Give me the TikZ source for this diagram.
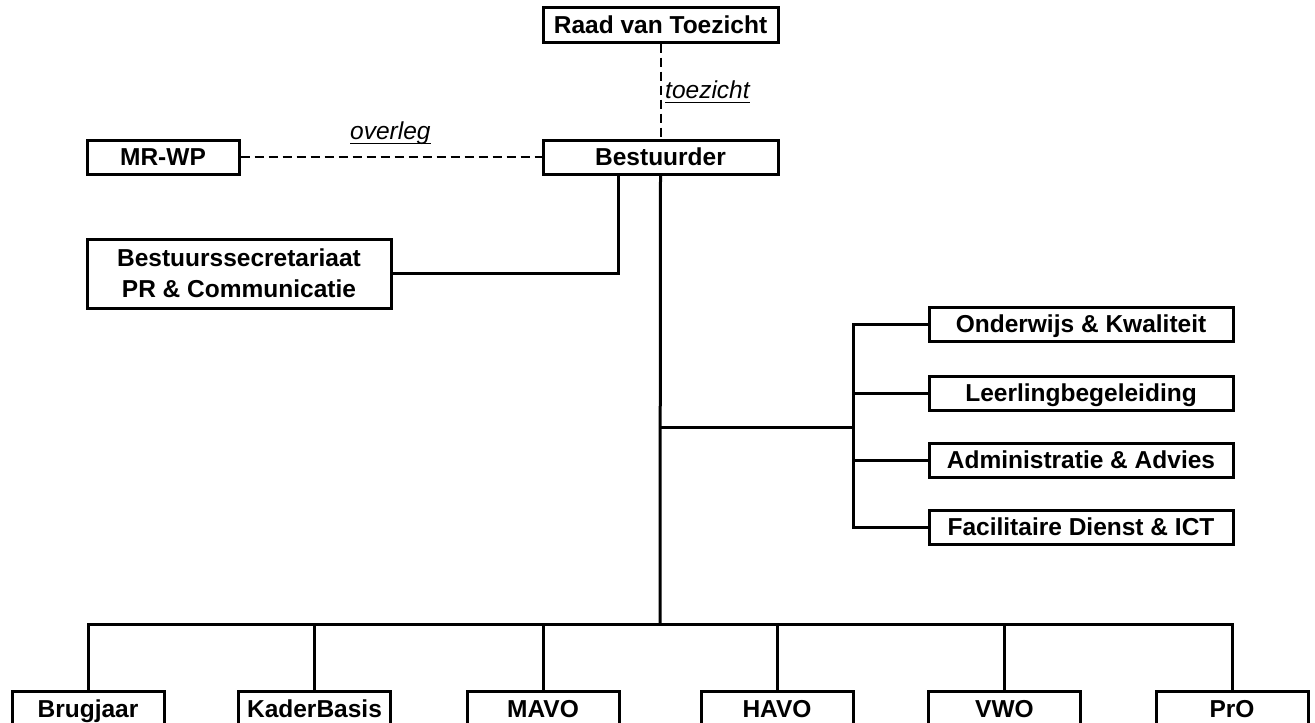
\documentclass[tikz,border=0pt]{standalone}
\usepackage{fontspec}
\setmainfont{Liberation Sans}
\begin{document}
\begin{tikzpicture}[x=1pt,y=-1pt,
  box/.style={draw=black,line width=3pt,rectangle,inner sep=0pt,fill=white,
    font=\fontsize{24.5}{31}\selectfont\bfseries,align=center},
  onebox/.style={box,text height=17.6pt,text depth=0pt},
  conn/.style={line width=3pt,black},
  dash line/.style={line width=2pt,black,dash pattern=on 9pt off 5pt},
  lab/.style={inner sep=0pt,font=\fontsize{24.5}{30}\selectfont\itshape},
  ul/.style={line width=1.8pt,black}]
\path[use as bounding box] (0,0) rectangle (1315,723);
\clip (0,0) rectangle (1315,723);
\fill[white] (0,0) rectangle (1315,723);

% top nodes
\node[onebox,minimum width=235pt,minimum height=35pt] (raad) at (660.5,24.5) {Raad van Toezicht};
\node[onebox,minimum width=235pt,minimum height=34pt] (best) at (660.5,157) {Bestuurder};
\node[onebox,minimum width=152pt,minimum height=34pt] (mrwp) at (163,157) {MR-WP};
\node[box,minimum width=304pt,minimum height=69pt] (sec) at (239,273.5) {Bestuurssecretariaat\\PR \& Communicatie};

% staff nodes
\node[onebox,minimum width=304pt,minimum height=34pt] (ok) at (1081,324) {Onderwijs \& Kwaliteit};
\node[onebox,minimum width=304pt,minimum height=34pt] (lb) at (1081,393) {Leerlingbegeleiding};
\node[onebox,minimum width=304pt,minimum height=34pt] (aa) at (1081,460) {Administratie \& Advies};
\node[onebox,minimum width=304pt,minimum height=34pt] (fd) at (1081,527) {Facilitaire Dienst \& ICT};

% bottom nodes
\node[onebox,minimum width=152pt,minimum height=36pt] (brug) at (88,709) {Brugjaar};
\node[onebox,minimum width=152pt,minimum height=36pt] (kb) at (314.5,709) {KaderBasis};
\node[onebox,minimum width=152pt,minimum height=36pt] (mavo) at (543,709) {MAVO};
\node[onebox,minimum width=152pt,minimum height=36pt] (havo) at (777,709) {HAVO};
\node[onebox,minimum width=152pt,minimum height=36pt] (vwo) at (1004.5,709) {VWO};
\node[onebox,minimum width=152pt,minimum height=36pt] (pro) at (1232,709) {PrO};

% coordinates
\coordinate (bus) at (660,624);
\coordinate (br) at (660,427);
\coordinate (sp) at (853,427);
\coordinate (secx) at (618,273.5);

% dashed relations
\draw[dash line] (raad.south) -- (best.north);
\draw[dash line] (mrwp.east) -- (best.west);
\node[lab,anchor=base west] (ltoe) at (665,98) {toezicht};
\draw[ul] ([yshift=-4.5pt]ltoe.base west) -- ([yshift=-4.5pt]ltoe.base east);
\node[lab,anchor=base west] (lover) at (350,139) {overleg};
\draw[ul] ([yshift=-4.5pt]lover.base west) -- ([yshift=-4.5pt]lover.base east);

% solid connectors
\draw[conn] (sec.east) -- (secx) -- (secx |- best.south);
\draw[conn] (best.south) -- (bus);
\draw[conn] (br) -- (sp);
\draw[conn] (ok.west) -| (sp) |- (fd.west);
\draw[conn] (lb.west) -- (lb.west -| sp);
\draw[conn] (aa.west) -- (aa.west -| sp);
\draw[conn] (brug.north) -- (brug.north |- bus) -- (pro.north |- bus) -- (pro.north);
\draw[conn] (kb.north) -- (kb.north |- bus);
\draw[conn] (mavo.north) -- (mavo.north |- bus);
\draw[conn] (havo.north) -- (havo.north |- bus);
\draw[conn] (vwo.north) -- (vwo.north |- bus);
\end{tikzpicture}
\end{document}
